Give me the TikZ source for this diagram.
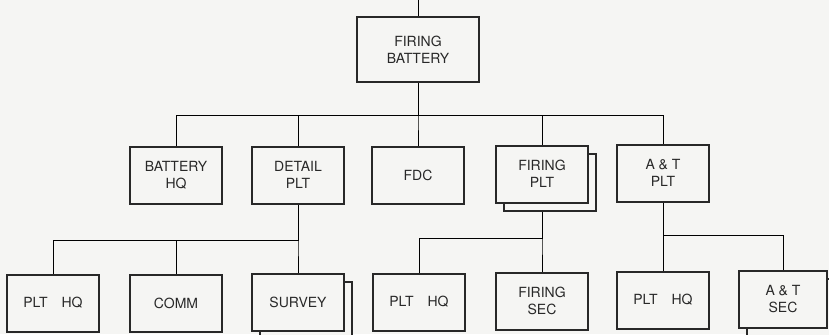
\documentclass[tikz,border=0pt]{standalone}
\usepackage{fontspec}
\setsansfont{TeX Gyre Heros}
\usetikzlibrary{shadows, backgrounds}

\definecolor{paper}{RGB}{245,245,243}
\definecolor{ink}{RGB}{40,40,40}

\begin{document}
\begin{tikzpicture}[x=0.5pt, y=-0.5pt, line width=1pt,
    unit/.style={draw=ink, fill=paper, text=ink, inner sep=0pt,
        minimum width=46pt, minimum height=28.5pt, align=center,
        font=\sffamily\fontsize{7}{8.5}\selectfont},
    multi/.style={copy shadow={shadow xshift=4pt, shadow yshift=-4pt}}]
\useasboundingbox (0,0) rectangle (829,334);
\clip (0,0) rectangle (829,334);

% top
\node [unit, minimum width=61pt, minimum height=32.5pt] (fb) at (418,49.5) {FIRING\\BATTERY};
\coordinate (in) at (418,0);

% second row
\node [unit] (bhq)   at (176,175) {BATTERY\\HQ};
\node [unit] (dplt)  at (298,175) {DETAIL\\PLT};
\node [unit] (fdc)   at (418,175) {FDC};
\node [unit, multi] (fplt) at (542,174) {FIRING\\PLT};
\node [unit] (atplt) at (663,173) {A \& T\\PLT};

% third row
\node [unit] (phqa)  at (53,303)  {PLT\quad HQ};
\node [unit] (comm)  at (176,303) {COMM};
\node [unit, multi] (svy) at (298,302) {SURVEY};
\node [unit] (phqb)  at (419,302) {PLT\quad HQ};
\node [unit] (fsec)  at (542,301) {FIRING\\SEC};
\node [unit] (phqc)  at (663,300) {PLT\quad HQ};
\node [unit, multi, minimum width=44pt] (atsec) at (783,299) {A \& T\\SEC};

% bus lines
\coordinate (bus)  at (0,115);
\coordinate (busl) at (0,240);
\coordinate (busm) at (0,238);
\coordinate (busr) at (0,235);

\begin{scope}[on background layer, draw=ink]
\fill [paper] (0,0) rectangle (829,334);
\draw (in) -- (fb);
\foreach \c in {bhq,dplt,fdc,fplt,atplt}
  \draw (fb.south) -- (fb.south |- bus) -| (\c.north);
\foreach \c in {phqa,comm,svy}
  \draw (dplt.south) -- (dplt.south |- busl) -| (\c.north);
\foreach \c in {phqb,fsec}
  \draw (fplt.south) -- (fplt.south |- busm) -| (\c.north);
\foreach \c in {phqc,atsec}
  \draw (atplt.south) -- (atplt.south |- busr) -| (\c.north);
\end{scope}
\end{tikzpicture}
\end{document}
